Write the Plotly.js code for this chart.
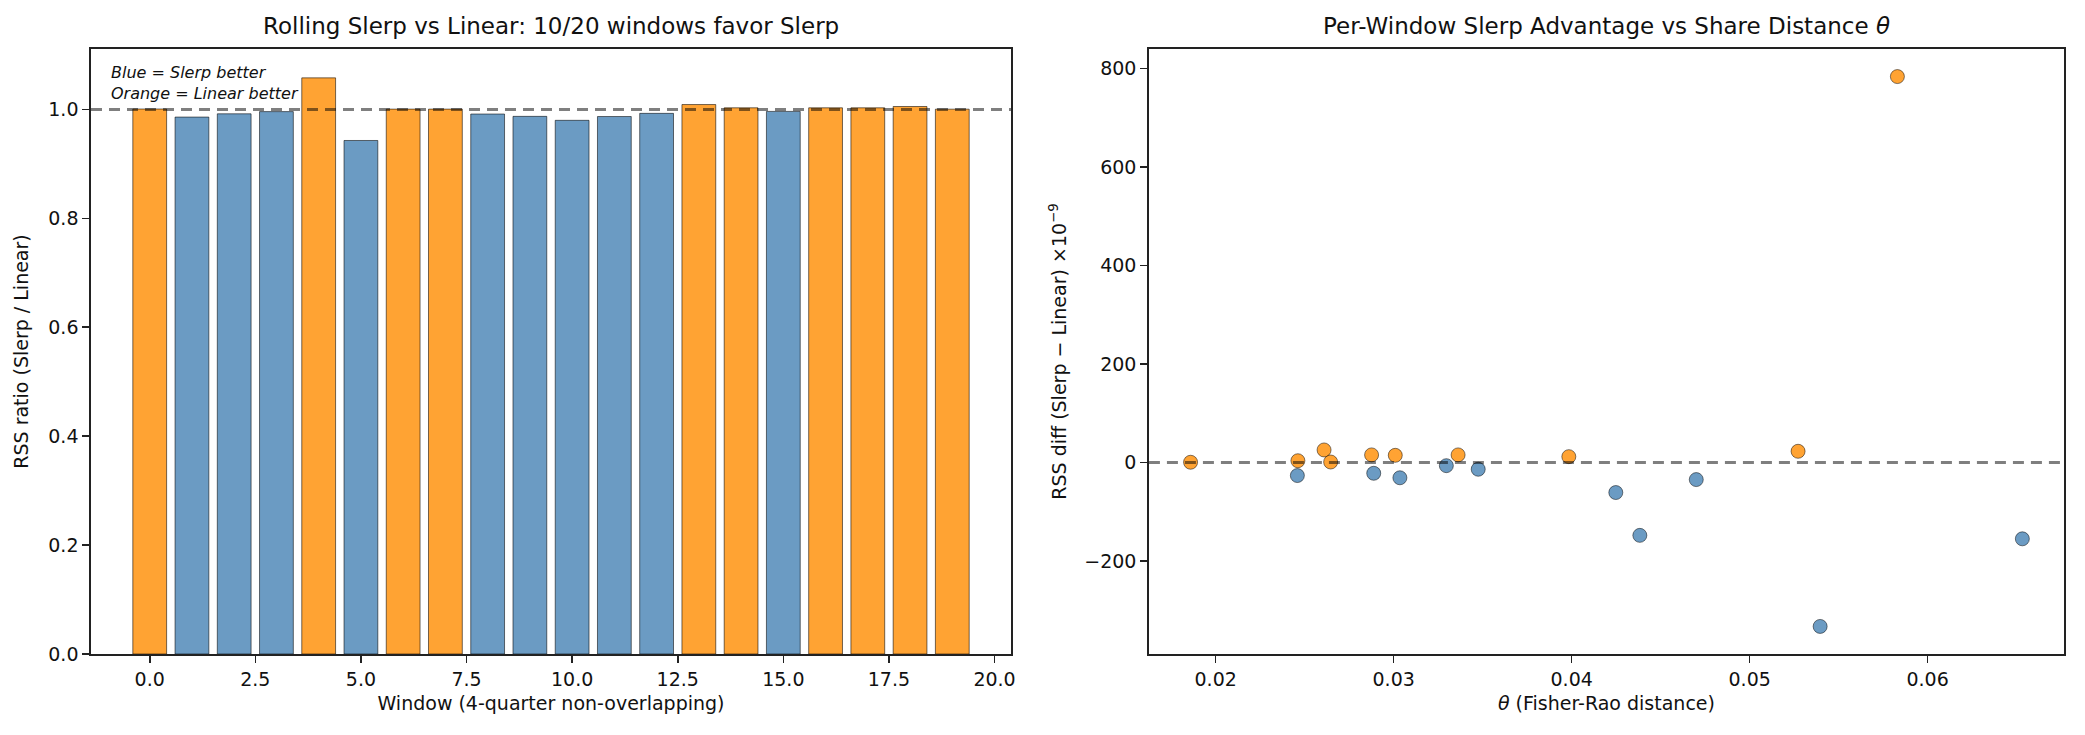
<!DOCTYPE html>
<html>
<head>
<meta charset="utf-8">
<script src="https://cdn.plot.ly/plotly-3.0.1.min.js"></script>
<style>
  html, body { margin: 0; padding: 0; background: #fff; }
  #chart { width: 2085px; height: 735px; }
</style>
</head>
<body>
<div id="chart"></div>
<script>
// left panel: RSS ratio per window
const windows = [0, 1, 2, 3, 4, 5, 6, 7, 8, 9, 10, 11, 12, 13, 14, 15, 16, 17, 18, 19];
const rssRatio = [1.0008, 0.986, 0.992, 0.996, 1.058, 0.943, 1.0006, 1.0006, 0.9916, 0.9873,
  0.980, 0.987, 0.9928, 1.009, 1.003, 0.9964, 1.003, 1.003, 1.0054, 1.0005];

// right panel: share distance vs RSS diff (x1e-9)
const theta = [0.01859, 0.02462, 0.02609, 0.02646, 0.02876, 0.03009, 0.03362, 0.03984, 0.05272, 0.0583,
  0.02459, 0.02888, 0.03035, 0.03296, 0.03475, 0.04248, 0.04383, 0.0470, 0.05396, 0.06532];
const rssDiff = [0.5, 3.6, 25.5, 1.0, 15.5, 14.6, 15.5, 11.9, 22.8, 784,
  -26.5, -21.9, -31, -6.4, -13.7, -61, -148, -34.7, -333, -155];

const blue = 'rgba(70,130,180,0.8)';
const orange = 'rgba(255,140,0,0.8)';
const font = 'DejaVu Sans, sans-serif';

let barTrace = {
  x: windows,
  y: rssRatio,
  type: 'bar',
  width: 0.8,
  marker: {
    color: rssRatio.map((r) => (r < 1 ? blue : orange)),
    line: { color: 'rgba(0,0,0,0.55)', width: 1 },
  },
  xaxis: 'x',
  yaxis: 'y',
  hoverinfo: 'x+y',
};

let scatterTrace = {
  x: theta,
  y: rssDiff,
  mode: 'markers',
  type: 'scatter',
  marker: {
    color: rssDiff.map((d) => (d < 0 ? blue : orange)),
    size: 14,
    line: { color: 'rgba(0,0,0,0.7)', width: 0.7 },
  },
  xaxis: 'x2',
  yaxis: 'y2',
};

const axisBase = {
  showgrid: false,
  zeroline: false,
  showline: true,
  mirror: true,
  linecolor: '#222',
  linewidth: 1.7,
  ticks: 'outside',
  ticklen: 7,
  tickwidth: 1.6,
  tickcolor: '#222',
  tickfont: { family: font, size: 19, color: '#111' },
};

let layout = {
  width: 2085,
  height: 735,
  showlegend: false,
  paper_bgcolor: '#fff',
  plot_bgcolor: '#fff',
  margin: { l: 91, r: 21, t: 49, b: 81 },
  font: { family: font, color: '#111' },
  xaxis: Object.assign({}, axisBase, {
    domain: [0, 0.4663],
    range: [-1.39, 20.39],
    tickvals: [0, 2.5, 5, 7.5, 10, 12.5, 15, 17.5, 20],
    tickformat: '.1f',
    title: { text: 'Window (4-quarter non-overlapping)', font: { family: font, size: 19 }, standoff: 8 },
  }),
  yaxis: Object.assign({}, axisBase, {
    range: [0, 1.111],
    tickvals: [0, 0.2, 0.4, 0.6, 0.8, 1.0],
    tickformat: '.1f',
    title: { text: 'RSS ratio (Slerp / Linear)', font: { family: font, size: 19 }, standoff: 14 },
  }),
  xaxis2: Object.assign({}, axisBase, {
    domain: [0.5362, 1],
    anchor: 'y2',
    range: [0.01625, 0.06766],
    tickvals: [0.02, 0.03, 0.04, 0.05, 0.06],
    tickformat: '.2f',
    title: { text: '<i>θ</i> (Fisher-Rao distance)', font: { family: font, size: 19 }, standoff: 8 },
  }),
  yaxis2: Object.assign({}, axisBase, {
    anchor: 'x2',
    range: [-389, 840],
    tickvals: [-200, 0, 200, 400, 600, 800],
    title: { text: 'RSS diff (Slerp − Linear) ×10<sup>−9</sup>', font: { family: font, size: 19 }, standoff: 12 },
  }),
  shapes: [
    {
      type: 'line', xref: 'x domain', yref: 'y', x0: 0, x1: 1, y0: 1, y1: 1,
      line: { color: 'rgba(0,0,0,0.5)', width: 3, dash: '11px,7px' },
    },
    {
      type: 'line', xref: 'x2 domain', yref: 'y2', x0: 0, x1: 1, y0: 0, y1: 0,
      line: { color: 'rgba(0,0,0,0.5)', width: 3, dash: '11px,7px' },
    },
  ],
  annotations: [
    {
      text: 'Rolling Slerp vs Linear: 10/20 windows favor Slerp',
      xref: 'x domain', yref: 'y domain', x: 0.5, y: 1,
      xanchor: 'center', yanchor: 'bottom', yshift: 8, showarrow: false,
      font: { family: font, size: 23, color: '#111' },
    },
    {
      text: 'Per-Window Slerp Advantage vs Share Distance <i>θ</i>',
      xref: 'x2 domain', yref: 'y2 domain', x: 0.5, y: 1,
      xanchor: 'center', yanchor: 'bottom', yshift: 8, showarrow: false,
      font: { family: font, size: 23, color: '#111' },
    },
    {
      text: '<i>Blue = Slerp better</i><br><i>Orange = Linear better</i>',
      xref: 'x domain', yref: 'y domain', x: 0.02, y: 0.98,
      xanchor: 'left', yanchor: 'top', align: 'left', showarrow: false,
      font: { family: font, size: 16, color: '#111' },
    },
  ],
};

Plotly.newPlot('chart', [barTrace, scatterTrace], layout, { displayModeBar: false, staticPlot: true });
</script>
</body>
</html>
